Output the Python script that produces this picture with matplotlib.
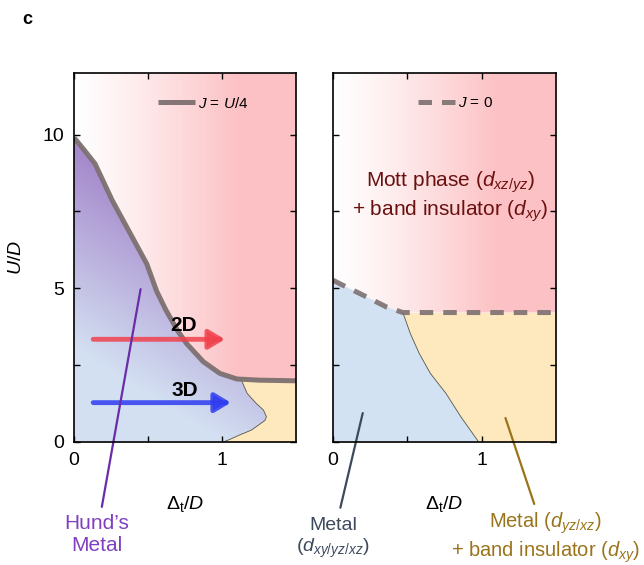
import matplotlib
matplotlib.use("Agg")
import matplotlib.pyplot as plt
import numpy as np
from matplotlib.patches import Polygon

plt.rcParams['font.family'] = ['Liberation Sans', 'DejaVu Sans']
plt.rcParams['mathtext.fontset'] = 'custom'
plt.rcParams['mathtext.rm'] = 'Liberation Sans'
plt.rcParams['mathtext.it'] = 'Liberation Sans:italic'
plt.rcParams['mathtext.bf'] = 'Liberation Sans:bold'

# ---- data ----
# J = U/4 phase boundary (left panel)
jq_x = [0.0, 0.063, 0.142, 0.258, 0.491, 0.559, 0.62, 0.70, 0.761, 0.874, 0.986, 1.10, 1.257, 1.50]
jq_y = [9.90, 9.53, 9.05, 7.86, 5.80, 4.90, 4.30, 3.62, 3.20, 2.61, 2.23, 2.05, 2.01, 1.99]
# Hund's metal / metal+band insulator boundary (left panel)
hm_x = [1.13, 1.17, 1.23, 1.28, 1.30, 1.29, 1.20, 1.12, 1.06, 1.01]
hm_y = [2.03, 1.58, 1.26, 1.04, 0.82, 0.70, 0.39, 0.23, 0.10, 0.0]
# J = 0 boundary (right panel)
j0_x = [0.0, 0.09, 0.18, 0.27, 0.36, 0.47, 1.50]
j0_y = [5.26, 5.04, 4.83, 4.61, 4.39, 4.21, 4.21]
# metal / metal+band insulator boundary (right panel)
mb_x = [0.47, 0.52, 0.58, 0.655, 0.76, 0.86, 0.98]
mb_y = [4.21, 3.53, 2.88, 2.23, 1.58, 0.82, 0.0]

# arrows: (x_start, x_end, y)
arrow_2d = (0.13, 1.02, 3.34)
arrow_3d = (0.13, 1.06, 1.28)

x_ticks = [0, 0.5, 1]
x_tick_labels = ['0', '', '1']
y_ticks = [0, 2.5, 5, 7.5, 10]
y_tick_labels = ['0', '', '5', '', '10']
xlim = (0, 1.5)
ylim = (0, 12)

PINK = np.array([0.99, 0.76, 0.77])
PURPLE = np.array([0.65, 0.54, 0.80])
BLUE = np.array([0.83, 0.88, 0.95])
YELLOW = '#fde9bd'
LINE_C = '#7d7070'

fig = plt.figure(figsize=(6.44, 5.65), dpi=100)
ax1 = fig.add_axes([74 / 644, 1 - 442 / 565, 222 / 644, 369 / 565])
ax2 = fig.add_axes([333 / 644, 1 - 442 / 565, 223 / 644, 369 / 565])

gx, gy = np.meshgrid(np.linspace(xlim[0], xlim[1], 300), np.linspace(ylim[0], ylim[1], 400))
ext = (xlim[0], xlim[1], ylim[0], ylim[1])

# pink horizontal gradient
tp = np.clip(gx / 1.1, 0, 1) ** 1.2
pink_img = (1 - tp)[..., None] * np.ones(3) + tp[..., None] * PINK
# purple -> blue gradient for Hund's metal
th = np.clip((gy + 3 * gx - 3) / 6.5, 0, 1)
hund_img = (1 - th)[..., None] * BLUE + th[..., None] * PURPLE


def clipped_image(ax, img, verts):
    poly = Polygon(verts, closed=True, facecolor='none', edgecolor='none', transform=ax.transData)
    ax.add_patch(poly)
    im = ax.imshow(img, extent=ext, origin='lower', aspect='auto', interpolation='bilinear', zorder=0)
    im.set_clip_path(poly)


# ---- left panel ----
ax = ax1
ax.fill_between(jq_x, 0, jq_y, color=YELLOW, lw=0, zorder=0)
top_verts = list(zip(jq_x, jq_y)) + [(xlim[1], ylim[1]), (xlim[0], ylim[1])]
clipped_image(ax, pink_img, top_verts)
hund_verts = [(x, y) for x, y in zip(jq_x, jq_y) if x <= 1.08] + list(zip(hm_x, hm_y)) + [(0, 0)]
clipped_image(ax, hund_img, hund_verts)
ax.plot(hm_x, hm_y, color='#55554a', lw=0.6, zorder=2)
ax.plot(jq_x, jq_y, color=LINE_C, lw=3.6, alpha=0.95, solid_capstyle='butt',
        solid_joinstyle='round', zorder=3, label=r'$J$ = $U$/4')

for (x0, x1, y), c in [(arrow_2d, '#f0414d'), (arrow_3d, '#2f3cf0')]:
    ax.annotate('', xy=(x1, y), xytext=(x0, y),
                arrowprops=dict(arrowstyle='-|>,head_length=0.6,head_width=0.36', color=c, lw=3.5,
                                mutation_scale=16, shrinkA=0, shrinkB=0, alpha=0.85), zorder=4)
ax.text(0.74, 3.80, '2D', fontsize=15, fontweight='bold', ha='center', va='center', zorder=5)
ax.text(0.75, 1.69, '3D', fontsize=15, fontweight='bold', ha='center', va='center', zorder=5)

ax.annotate('Hund\u2019s\nMetal', xy=(0.45, 4.97), xytext=(0.155, -3.0), fontsize=15, color='#8040bf',
            ha='center', va='center', annotation_clip=False,
            arrowprops=dict(arrowstyle='-', color='#6a2ca8', lw=1.6, shrinkA=3, shrinkB=0), zorder=6)
ax.legend(loc='center right', bbox_to_anchor=(0.785, 0.918), frameon=False, fontsize=11,
          handlelength=2.4, handletextpad=0.2, borderpad=0, borderaxespad=0)
ax.set_ylabel(r'$U/D$', fontsize=14)
ax.yaxis.set_label_coords(-0.22, 0.5)
ax.set_yticks(y_ticks)
ax.set_yticklabels(y_tick_labels)

# ---- right panel ----
ax = ax2
ax.fill_between(j0_x, 0, j0_y, color=YELLOW, lw=0, zorder=0)
top_verts = list(zip(j0_x, j0_y)) + [(xlim[1], ylim[1]), (xlim[0], ylim[1])]
clipped_image(ax, pink_img, top_verts)
metal_verts = [(x, y) for x, y in zip(j0_x, j0_y) if x < 0.47] + list(zip(mb_x, mb_y)) + [(0, 0)]
ax.add_patch(Polygon(metal_verts, closed=True, facecolor='#d2e2f3', edgecolor='none', zorder=1))
ax.plot(mb_x, mb_y, color='#55554a', lw=0.6, zorder=2)
ax.plot(j0_x, j0_y, color=LINE_C, lw=3.6, alpha=0.9, dashes=(2.7, 2.0), zorder=3, label=r'$J$ = 0')

ax.text(0.79, 7.99, 'Mott phase ($d_{xz/yz}$)\n+ band insulator ($d_{xy}$)', fontsize=15,
        color='#6b1010', ha='center', va='center', zorder=5)
ax.annotate('Metal\n($d_{xy/yz/xz}$)', xy=(0.20, 0.94), xytext=(0.0, -3.15), fontsize=14,
            color='#3d4a5c', ha='center', va='center', annotation_clip=False,
            arrowprops=dict(arrowstyle='-', color='#3d4a5c', lw=1.6, shrinkA=5, shrinkB=0), zorder=6)
ax.annotate('Metal ($d_{yz/xz}$)\n+ band insulator ($d_{xy}$)', xy=(1.16, 0.78), xytext=(1.43, -3.12),
            fontsize=14.5, color='#9a741a', ha='center', va='center', annotation_clip=False,
            arrowprops=dict(arrowstyle='-', color='#9a741a', lw=1.6, shrinkA=3, shrinkB=0), zorder=6)
ax.legend(loc='center right', bbox_to_anchor=(0.717, 0.918), frameon=False, fontsize=11,
          handlelength=2.4, handletextpad=0.2, borderpad=0, borderaxespad=0)
ax.set_yticks(y_ticks)
ax.set_yticklabels([])

for ax in (ax1, ax2):
    ax.set_xlim(*xlim)
    ax.set_ylim(*ylim)
    ax.set_xticks(x_ticks)
    ax.set_xticklabels(x_tick_labels)
    ax.tick_params(direction='in', top=True, right=True, length=4, width=1, labelsize=14, pad=7)
    ax.set_xlabel(r'$\Delta_\mathrm{t}/D$', fontsize=14)
    ax.xaxis.set_label_coords(0.5, -0.14)
    for s in ax.spines.values():
        s.set_linewidth(1.2)
        s.set_zorder(10)

fig.text(27 / 644, 1 - 20 / 565, 'c', fontsize=13, fontweight='bold', ha='center', va='center')

fig.savefig('out.png', dpi=100)
